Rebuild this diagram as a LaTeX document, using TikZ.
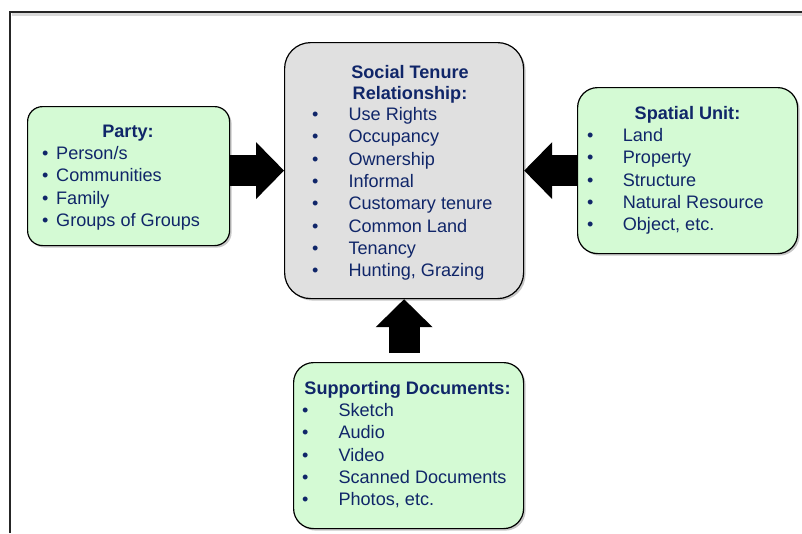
\documentclass[tikz,border=0pt]{standalone}
\usepackage{fontspec}
\setmainfont{Liberation Sans}
\usetikzlibrary{arrows.meta,shadows}
\definecolor{navy}{RGB}{16,38,105}
\definecolor{boxgreen}{RGB}{212,250,212}
\definecolor{boxgray}{RGB}{224,224,224}
\begin{document}
\begin{tikzpicture}[x=1pt,y=-1pt,
  box/.style={draw=black, line width=1.2pt, inner sep=0pt, anchor=north west,
    drop shadow={shadow xshift=2pt,shadow yshift=-2pt,opacity=0.22,fill=black}},
  itm/.style={anchor=base west, inner sep=0pt, text=navy, font=\fontsize{18.1}{22}\selectfont},
  ttl/.style={anchor=base, inner sep=0pt, text=navy, font=\fontsize{18.1}{22}\selectfont\bfseries},
  blockarrow/.style={draw=black, line width=31pt,
    -{Triangle[width=57pt,length=28pt,line width=0pt]}}]
\useasboundingbox (0,0) rectangle (802,533);
\fill[white] (0,0) rectangle (802,533);
% frame
\draw[black!15, line width=3pt] (11.5,14.5) -- (802,14.5);
\draw[black!85, line width=1.3pt] (10,533) -- (10,12) -- (802,12);
% boxes
\node[box, fill=boxgreen, rounded corners=15pt, minimum width=202pt, minimum height=139pt] (party) at (27,106) {};
\node[box, fill=boxgray, rounded corners=26pt, minimum width=239pt, minimum height=256pt] (str) at (284,42) {};
\node[box, fill=boxgreen, rounded corners=20pt, minimum width=220pt, minimum height=166pt] (spatial) at (577,87) {};
\node[box, fill=boxgreen, rounded corners=20pt, minimum width=230pt, minimum height=166pt] (sup) at (293,362) {};
% arrows
\draw[blockarrow] (party.east |- str.west) -- (str.west);
\draw[blockarrow] (spatial.west |- str.east) -- (str.east);
\draw[blockarrow, shorten <=9pt] (sup.north -| str.south) -- (str.south);
% Party
\node[ttl] (party-t) at (128,137.5) {Party:};
\foreach \t [count=\i] in {Person/s, Communities, Family, Groups of Groups}
  \node[itm] (party-\i) at (41.85, 137.2+22.3*\i) {\makebox[14.15pt][l]{•}\t};
% Social tenure relationship
\node[ttl] (str-t1) at (410,78) {Social Tenure};
\node[ttl] (str-t2) at (410,99.3) {Relationship:};
\foreach \t [count=\i] in {Use Rights, Occupancy, Ownership, Informal, Customary tenure, Common Land, Tenancy, {Hunting, Grazing}}
  \node[itm] (str-\i) at (311.85, 98.2+22.3*\i) {\makebox[36.5pt][l]{•}\t};
% Spatial unit
\node[ttl] (spatial-t) at (687.5,119.8) {Spatial Unit:};
\foreach \t [count=\i] in {Land, Property, Structure, Natural Resource, {Object, etc.}}
  \node[itm] (spatial-\i) at (586.85, 119.2+22.3*\i) {\makebox[35.8pt][l]{•}\t};
% Supporting documents
\node[ttl] (sup-t) at (407.5,394.8) {Supporting Documents:};
\foreach \t [count=\i] in {Sketch, Audio, Video, Scanned Documents, {Photos, etc.}}
  \node[itm] (sup-\i) at (301.85, 394.2+22.3*\i) {\makebox[36.5pt][l]{•}\t};
\end{tikzpicture}
\end{document}
